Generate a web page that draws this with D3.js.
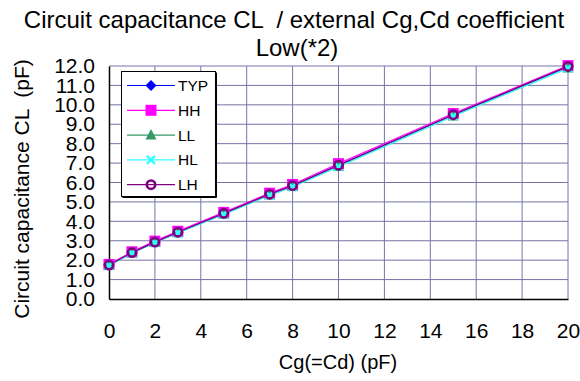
<!DOCTYPE html>
<html>
<head>
<meta charset="utf-8">
<script src="https://cdn.jsdelivr.net/npm/d3@7"></script>
<style>
  html, body { margin: 0; padding: 0; background: #fff; }
  svg { display: block; font-family: "Liberation Sans", Arial, sans-serif; }
  text { white-space: pre; }
</style>
</head>
<body>
<svg id="chart" width="580" height="381"></svg>
<script>
// External capacitance Cg (= Cd), pF
const cg = [0, 1, 2, 3, 5, 7, 8, 10, 15, 20];

// Circuit capacitance CL (pF) for each process corner
const typ = [1.75, 2.39, 2.93, 3.44, 4.40, 5.39, 5.83, 6.88, 9.48, 11.97];
const hh  = [1.78, 2.43, 2.98, 3.49, 4.46, 5.45, 5.90, 6.97, 9.55, 12.02];
const ll  = [1.73, 2.37, 2.91, 3.41, 4.37, 5.35, 5.79, 6.83, 9.43, 11.90];
const hl  = [1.72, 2.36, 2.90, 3.40, 4.36, 5.34, 5.78, 6.82, 9.42, 11.89];
const lh  = [1.75, 2.39, 2.93, 3.44, 4.41, 5.40, 5.84, 6.89, 9.49, 11.98];

const seriesNames = ["TYP", "HH", "LL", "HL", "LH"];
const xTicks = [0, 2, 4, 6, 8, 10, 12, 14, 16, 18, 20];
const yTicks = [0, 1, 2, 3, 4, 5, 6, 7, 8, 9, 10, 11, 12];

const styles = {
  TYP: { color: "#0000ff", marker: "diamond" },
  HH:  { color: "#ff00ff", marker: "square" },
  LL:  { color: "#339966", marker: "triangle" },
  HL:  { color: "#33ffff", marker: "cross" },
  LH:  { color: "#800080", marker: "circle" }
};
const seriesValues = { TYP: typ, HH: hh, LL: ll, HL: hl, LH: lh };

const svg = d3.select("#chart");
const plot = { left: 109, right: 568, top: 66, bottom: 299 };

const x = d3.scaleLinear().domain([0, 20]).range([plot.left, plot.right]);
const y = d3.scaleLinear().domain([0, 12]).range([plot.bottom, plot.top]);

svg.append("rect").attr("width", 580).attr("height", 381).attr("fill", "#fff");

// Grid
const grid = svg.append("g");
grid.selectAll("line.v").data(xTicks.slice(1)).join("line")
  .attr("x1", d => x(d)).attr("x2", d => x(d))
  .attr("y1", plot.top).attr("y2", plot.bottom)
  .attr("stroke", "#7474a8").attr("stroke-width", 1);
grid.selectAll("line.h").data(yTicks.slice(1)).join("line")
  .attr("x1", plot.left).attr("x2", plot.right)
  .attr("y1", d => y(d)).attr("y2", d => y(d))
  .attr("stroke", "#7474a8").attr("stroke-width", 1);

// Axes
const xAxis = d3.axisBottom(x).tickValues(xTicks).tickSize(0).tickPadding(24).tickFormat(d3.format("d"));
const yAxis = d3.axisLeft(y).tickValues(yTicks).tickSize(0).tickPadding(14).tickFormat(d3.format(".1f"));

const gx = svg.append("g").attr("transform", `translate(0,${plot.bottom})`).call(xAxis);
const gy = svg.append("g").attr("transform", `translate(${plot.left},0)`).call(yAxis);
[gx, gy].forEach(g => {
  g.select(".domain").attr("stroke", "#000").attr("stroke-width", 1.5);
  g.selectAll("text").attr("font-size", 21).attr("fill", "#000")
    .attr("font-family", "Liberation Sans, Arial, sans-serif");
});

// Series lines and markers
const line = d3.line().x((d, i) => x(cg[i])).y(d => y(d));

function drawMarker(g, type, color, cx, cy) {
  if (type === "diamond") {
    g.append("path").attr("d", `M${cx},${cy-5.5}L${cx+5.5},${cy}L${cx},${cy+5.5}L${cx-5.5},${cy}Z`).attr("fill", color);
  } else if (type === "square") {
    g.append("rect").attr("x", cx - 5.5).attr("y", cy - 5.5).attr("width", 11).attr("height", 11).attr("fill", color);
  } else if (type === "triangle") {
    g.append("path").attr("d", `M${cx},${cy-6}L${cx+5.5},${cy+4.5}L${cx-5.5},${cy+4.5}Z`).attr("fill", color);
  } else if (type === "cross") {
    g.append("path").attr("d", `M${cx-4},${cy-4}L${cx+4},${cy+4}M${cx+4},${cy-4}L${cx-4},${cy+4}`)
      .attr("stroke", color).attr("stroke-width", 2.5).attr("fill", "none");
  } else if (type === "circle") {
    g.append("circle").attr("cx", cx).attr("cy", cy).attr("r", 4.2).attr("fill", "none")
      .attr("stroke", color).attr("stroke-width", 2.6);
  }
}

const seriesG = svg.append("g");
seriesNames.forEach(name => {
  const st = styles[name];
  const vals = seriesValues[name];
  seriesG.append("path").datum(vals).attr("d", line)
    .attr("fill", "none").attr("stroke", st.color).attr("stroke-width", 1.2);
});
seriesNames.forEach(name => {
  const st = styles[name];
  const vals = seriesValues[name];
  const mg = seriesG.append("g");
  vals.forEach((v, i) => drawMarker(mg, st.marker, st.color, x(cg[i]), y(v)));
});

// Legend
const legend = svg.append("g");
legend.append("rect").attr("x", 121.5).attr("y", 71.5).attr("width", 94).attr("height", 125)
  .attr("fill", "#fff").attr("stroke", "#000").attr("stroke-width", 1);
legend.append("path").attr("d", "M216.5,72.5V197.5H122.5").attr("fill", "none").attr("stroke", "#000").attr("stroke-width", 1);
seriesNames.forEach((name, i) => {
  const st = styles[name];
  const ly = 85.5 + i * 24.8;
  legend.append("line").attr("x1", 127).attr("x2", 175).attr("y1", ly).attr("y2", ly)
    .attr("stroke", st.color).attr("stroke-width", 1.2);
  drawMarker(legend, st.marker, st.color, 151, ly);
  legend.append("text").attr("x", 178).attr("y", ly + 5.5).attr("font-size", 15.5).text(name);
});

// Titles
const title = svg.append("text").attr("text-anchor", "middle").attr("font-size", 24).attr("fill", "#000");
title.append("tspan").attr("x", 294).attr("y", 28).text("Circuit capacitance CL  / external Cg,Cd coefficient");
title.append("tspan").attr("x", 297).attr("y", 56).text("Low(*2)");

svg.append("text").attr("x", 338).attr("y", 369).attr("text-anchor", "middle")
  .attr("font-size", 20).text("Cg(=Cd) (pF)");

svg.append("text").attr("transform", "translate(29,189) rotate(-90)").attr("text-anchor", "middle")
  .attr("font-size", 21).text("Circuit capacitance CL  (pF)");
</script>
</body>
</html>
